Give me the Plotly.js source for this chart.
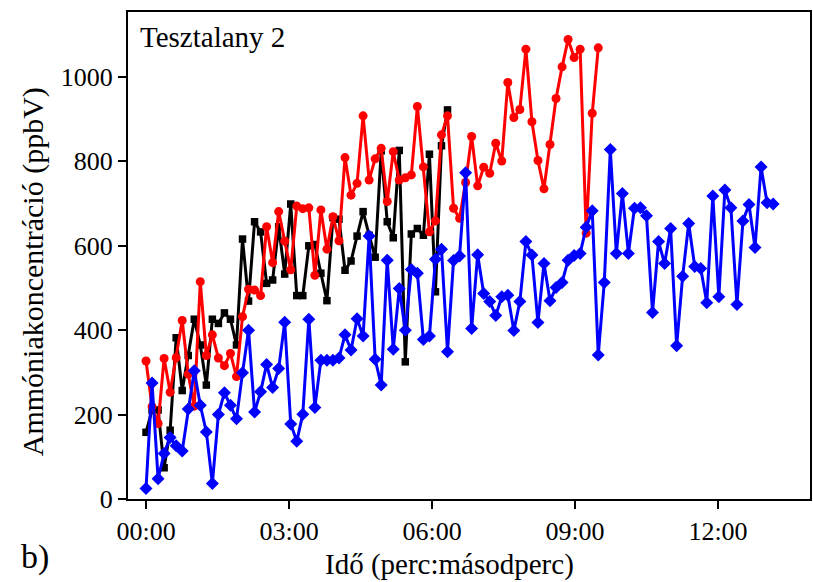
<!DOCTYPE html>
<html>
<head>
<meta charset="utf-8">
<script src="https://cdn.plot.ly/plotly-3.0.1.min.js"></script>
<style>html,body{margin:0;padding:0;background:#fff;}#chart{width:813px;height:582px;}</style>
</head>
<body>
<div id="chart"></div>
<script>
// Sampling: first sample at 00:00, one sample about every 7.59 s
const startSeconds = 0;
const sampleIntervalSeconds = 7.59;

// Ammonia concentration (ppbV)
const blackValues = [158, 211, 211, 74, 163, 382, 257, 340, 426, 365, 270, 426, 416, 441, 426, 365, 616, 469, 657, 633,
  511, 519, 645, 533, 699, 482, 482, 600, 603, 535, 470, 667, 663, 542, 564, 623, 681, 625, 573, 825,
  657, 619, 826, 325, 628, 641, 625, 817, 491, 837, 922];

const redValues = [327, 219, 179, 333, 253, 335, 423, 296, 220, 515, 340, 389, 334, 316, 345, 290, 432, 497, 495, 482,
  645, 560, 681, 611, 543, 694, 688, 690, 530, 685, 592, 669, 612, 809, 720, 748, 908, 756, 806, 831,
  705, 823, 756, 761, 768, 930, 787, 633, 659, 863, 908, 689, 665, 750, 859, 742, 786, 772, 843, 801,
  987, 904, 923, 1066, 894, 802, 735, 840, 949, 1024, 1089, 1046, 1066, 630, 914, 1069];

const blueValues = [25, 275, 48, 108, 146, 126, 114, 213, 304, 222, 159, 37, 200, 252, 222, 190, 299, 400, 206, 254,
  319, 264, 309, 419, 178, 137, 201, 426, 217, 329, 329, 329, 334, 389, 353, 427, 386, 623, 331, 270,
  566, 355, 499, 400, 544, 535, 378, 386, 568, 592, 349, 565, 576, 773, 404, 579, 487, 468, 435, 479,
  483, 399, 468, 610, 578, 418, 558, 470, 501, 513, 566, 577, 582, 644, 683, 341, 513, 828, 582, 724,
  582, 689, 690, 671, 442, 610, 558, 641, 363, 528, 653, 551, 546, 465, 718, 479, 732, 690, 461, 659,
  698, 596, 787, 702, 699];

// Tick labels (mm:ss)
const xTickSeconds = [0, 180, 360, 540, 720];
const xTickLabels = ["00:00", "03:00", "06:00", "09:00", "12:00"];
const yTickValues = [0, 200, 400, 600, 800, 1000];

const xTitle = "Idő (perc:másodperc)";
const yTitle = "Ammóniakoncentráció (ppbV)";
const panelLabel = "Tesztalany 2";
const subfigLabel = "b)";

function timesFor(values) {
  return values.map((_, i) => startSeconds + i * sampleIntervalSeconds);
}

const FONT = "'Liberation Serif', 'Times New Roman', Times, serif";

const traces = [
  {x: timesFor(blackValues), y: blackValues, type: "scatter", mode: "lines+markers",
   line: {color: "#000000", width: 3}, marker: {symbol: "square", size: 7.5, color: "#000000"}, name: "black"},
  {x: timesFor(redValues), y: redValues, type: "scatter", mode: "lines+markers",
   line: {color: "#ff0000", width: 3}, marker: {symbol: "circle", size: 9, color: "#ff0000"}, name: "red"},
  {x: timesFor(blueValues), y: blueValues, type: "scatter", mode: "lines+markers",
   line: {color: "#0000ff", width: 3}, marker: {symbol: "diamond", size: 10, color: "#0000ff"}, name: "blue"}
];

const layout = {
  width: 813, height: 582,
  margin: {l: 128, r: 3, t: 12, b: 83},
  paper_bgcolor: "#ffffff", plot_bgcolor: "#ffffff",
  showlegend: false,
  font: {family: FONT, color: "#000000", size: 27},
  xaxis: {
    range: [-22.7, 835.8],
    tickmode: "array", tickvals: xTickSeconds, ticktext: xTickLabels,
    ticks: "outside", ticklen: 8, tickwidth: 2, tickcolor: "#000",
    showline: true, linewidth: 2, linecolor: "#000", mirror: true,
    showgrid: false, zeroline: false,
    tickfont: {family: FONT, size: 26, color: "#000"},
    title: {text: ""}
  },
  yaxis: {
    range: [0, 1154],
    tickmode: "array", tickvals: yTickValues,
    ticks: "outside", ticklen: 8, tickwidth: 2, tickcolor: "#000",
    showline: true, linewidth: 2, linecolor: "#000", mirror: true,
    showgrid: false, zeroline: false,
    tickfont: {family: FONT, size: 26, color: "#000"},
    title: {text: ""}
  },
  annotations: [
    {text: xTitle, xref: "paper", yref: "paper", x: 0.472, y: -0.1345, xanchor: "center", yanchor: "middle",
     showarrow: false, font: {family: FONT, size: 29, color: "#000"}},
    {text: yTitle, xref: "paper", yref: "paper", x: -0.139, y: 0.466, xanchor: "center", yanchor: "middle",
     textangle: -90, showarrow: false, font: {family: FONT, size: 30, color: "#000"}},
    {text: panelLabel, xref: "paper", yref: "paper", x: 0.0147, y: 0.949, xanchor: "left", yanchor: "middle",
     showarrow: false, font: {family: FONT, size: 29, color: "#000"}},
    {text: subfigLabel, xref: "paper", yref: "paper", x: -0.16, y: -0.119, xanchor: "left", yanchor: "middle",
     showarrow: false, font: {family: FONT, size: 34, color: "#000"}}
  ]
};

Plotly.newPlot("chart", traces, layout, {displayModeBar: false, staticPlot: true});
</script>
</body>
</html>
